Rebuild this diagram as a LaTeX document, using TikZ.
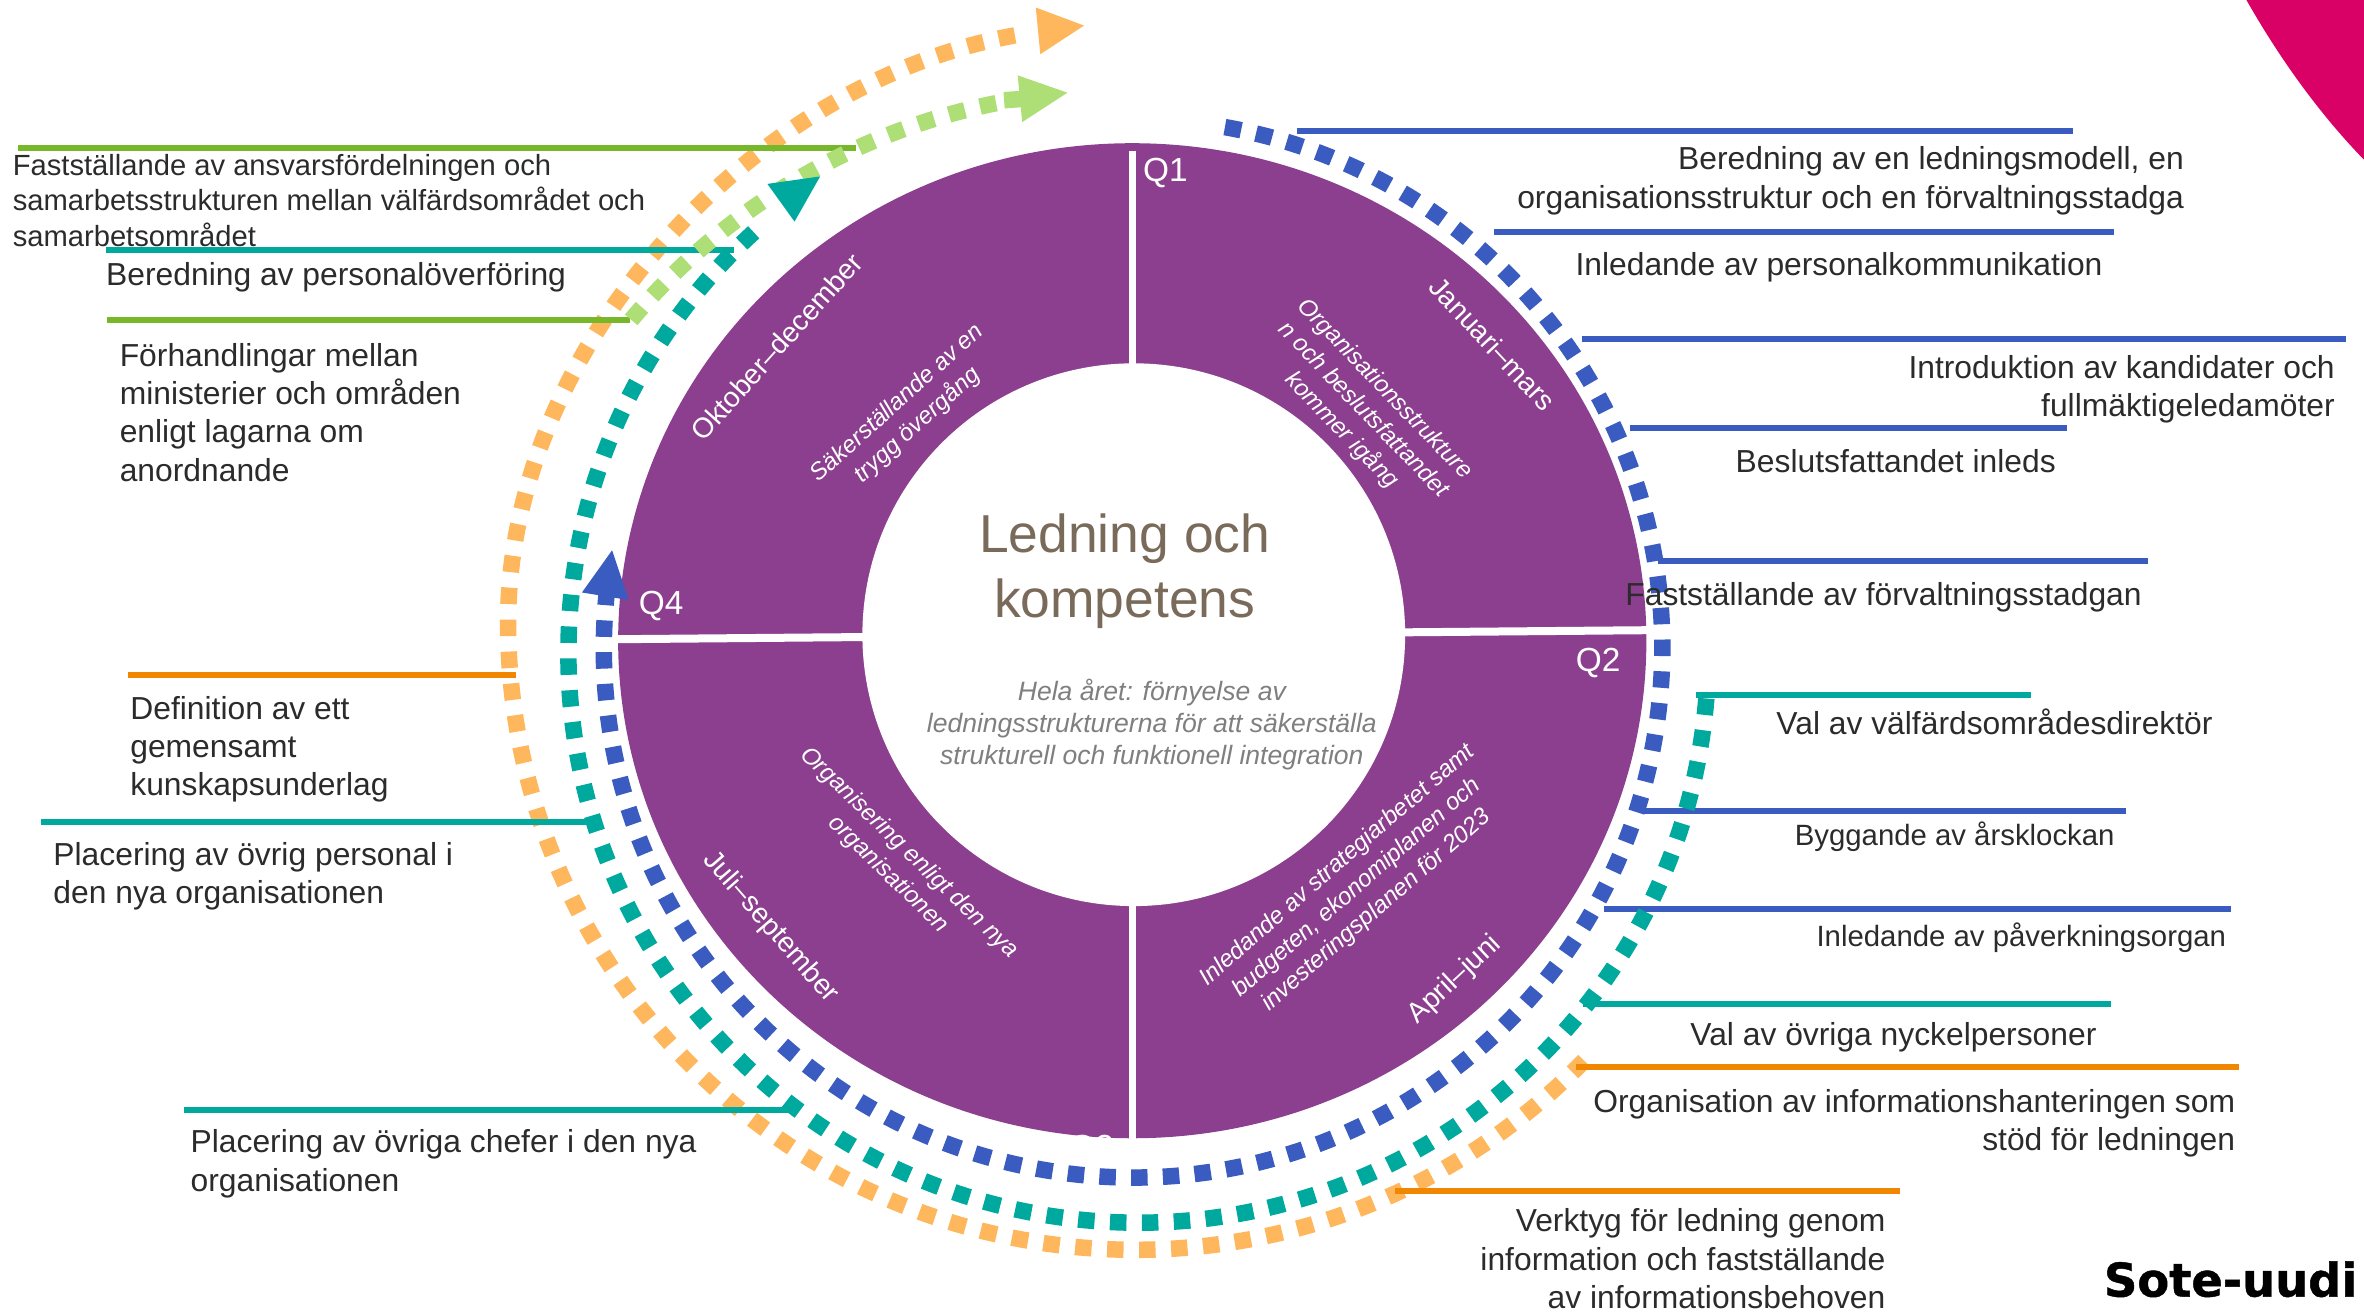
\documentclass[tikz,border=0pt]{standalone}
\usepackage{fontspec}
\setmainfont{Liberation Sans}
\newfontfamily\logofont[FakeBold=1]{DejaVu Sans Bold}
\definecolor{Purple}{HTML}{8C3F8F}
\definecolor{Ink}{HTML}{2B2B2B}
\definecolor{Heading}{HTML}{7A6A5A}
\definecolor{Note}{HTML}{7F7F7F}
\definecolor{RingOrange}{HTML}{FFB75E}
\definecolor{RingTeal}{HTML}{00A99D}
\definecolor{RingBlue}{HTML}{3A5BBF}
\definecolor{RingGreen}{HTML}{AEDF76}
\definecolor{LineGreen}{HTML}{76B82A}
\definecolor{LineOrange}{HTML}{F18700}
\definecolor{Pink}{HTML}{D90166}

\begin{document}
\begin{tikzpicture}[x=0.0150765cm, y=0.01508cm]
		\tikzstyle{Ring}	= [line width=0.165cm, dash pattern=on 0.165cm off 0.155cm]
		\tikzstyle{Lead}	= [line width=0.06cm]
		\tikzstyle{Label}	= [inner sep=0pt, text=Ink, font=\fontsize{9.05}{10.9}\selectfont]
		\tikzstyle{Right}	= [Label, anchor=east, align=right]
		\tikzstyle{Left}	= [Label, anchor=west, align=left]
		\tikzstyle{Small}	= [font=\fontsize{8.35}{10}\selectfont]
		\tikzstyle{Month}	= [inner sep=0pt, text=white, font=\fontsize{8}{10}\selectfont]
		\tikzstyle{Quarter}	= [inner sep=0pt, text=white, font=\fontsize{9.5}{11}\selectfont]
		\tikzstyle{Goal}	= [inner sep=0pt, text=white, align=center, font=\fontsize{6.8}{8.5}\itshape\selectfont]

		\useasboundingbox (0,0) rectangle (1568,870);

		\fill[Pink] (1490,870) .. controls (1511,833) and (1537,796) .. (1568,764) -- (1568,870) -- cycle;

		\fill[Purple] (751,445) ellipse [x radius=341, y radius=330];
		\fill[white] (752,449) circle [radius=180];
		\node (q3) at (724,107) [Quarter] {Q3};
		\draw[white, line width=0.07cm] (751,770) -- (751,110);
		\draw[white, line width=0.08cm] (408,446) -- (1094,452);

		\node (q1) at (773,755) [Quarter] {Q1};
		\node (q2) at (1060,430) [Quarter] {Q2};
		\node (q4) at (438.5,468) [Quarter] {Q4};

		\node (m1) at (990,642) [Month, rotate=-47] {Januari–mars};
		\node (m2) at (965,220) [Month, rotate=43] {April–juni};
		\node (m3) at (511,255) [Month, rotate=-49] {Juli–september};
		\node (m4) at (515,640) [Month, rotate=48] {Oktober–december};

		\node (g1) at (904,598) [Goal, rotate=-46] {Organisationsstrukture\\n och beslutsfattandet\\kommer igång};
		\node (g2) at (900,281) [Goal, rotate=41] {Inledande av strategiarbetet samt\\budgeten, ekonomiplanen och\\investeringsplanen för 2023};
		\node (g3) at (596,297) [Goal, rotate=-44] {Organisering enligt den nya\\organisationen};
		\node (g4) at (602,595) [Goal, rotate=42] {Säkerställande av en\\trygg övergång};

		\node (head) at (746,491) [inner sep=0pt, text=Heading, align=center, font=\fontsize{15.2}{18.4}\selectfont] {Ledning och\\kompetens};
		\node (note) at (764,389.5) [inner sep=0pt, text=Note, align=center, font=\fontsize{7.55}{9.2}\itshape\selectfont] {Hela året: förnyelse av\\ledningsstrukturerna för att säkerställa\\strukturell och funktionell integration};

		\draw [Ring, RingOrange] (753,457) ++(-44.3:416) arc [start angle=-44.3, end angle=-180, radius=416] .. controls (337,640) and (500,820) .. (682,848);

		\coordinate (b1) at (860,783);	\coordinate (b1e) at (1375,783);
		\coordinate (b2) at (991,716);	\coordinate (b2e) at (1402,716);
		\coordinate (b3) at (1049,645);	\coordinate (b3e) at (1556,645);
		\coordinate (b4) at (1081,586);	\coordinate (b4e) at (1371,586);
		\coordinate (b5) at (1100,498);	\coordinate (b5e) at (1425,498);
		\coordinate (b6) at (1089,332);	\coordinate (b6e) at (1410,332);
		\coordinate (b7) at (1064,267);	\coordinate (b7e) at (1480,267);
		\coordinate (t1) at (1125,409);	\coordinate (t1e) at (1347,409);
		\coordinate (t2) at (1050,204);	\coordinate (t2e) at (1400,204);
		\coordinate (t3) at (487,704);	\coordinate (t3e) at (70,704);
		\coordinate (t4) at (392,325);	\coordinate (t4e) at (27,325);
		\coordinate (t5) at (528,134);	\coordinate (t5e) at (122,134);
		\coordinate (o1) at (1045,162);	\coordinate (o1e) at (1485,162);
		\coordinate (o2) at (925,80);	\coordinate (o2e) at (1260,80);
		\coordinate (o3) at (342,422);	\coordinate (o3e) at (85,422);
		\coordinate (l1) at (568,772);	\coordinate (l1e) at (12,772);
		\coordinate (l2) at (418,658);	\coordinate (l2e) at (71,658);

		\draw [Lead, RingBlue] (b1) -- (b1e);
		\draw [Lead, RingBlue] (b2) -- (b2e);
		\draw [Lead, RingBlue] (b3) -- (b3e);
		\draw [Lead, RingBlue] (b4) -- (b4e);
		\draw [Lead, RingBlue] (b5) -- (b5e);
		\draw [Lead, RingBlue] (b6) -- (b6e);
		\draw [Lead, RingBlue] (b7) -- (b7e);
		\draw [Lead, RingTeal] (t1) -- (t1e);
		\draw [Lead, RingTeal] (t2) -- (t2e);
		\draw [Lead, RingTeal] (t3) -- (t3e);
		\draw [Lead, RingTeal] (t4) -- (t4e);
		\draw [Lead, RingTeal] (t5) -- (t5e);
		\draw [Lead, LineOrange] (o1) -- (o1e);
		\draw [Lead, LineOrange] (o2) -- (o2e);
		\draw [Lead, LineOrange] (o3) -- (o3e);
		\draw [Lead, LineGreen] (l1) -- (l1e);
		\draw [Lead, LineGreen] (l2) -- (l2e);

		\draw [Ring, RingBlue, dash pattern=on 0.165cm off 0.1525cm] (751.5,440) ++(80:351) arc [start angle=80, end angle=-186.5, radius=351];
		\draw [Ring, RingTeal, dash pattern=on 0.165cm off 0.154cm] (755,437) ++(-4.6:378) arc [start angle=-4.6, end angle=-228.6, radius=378];
		\draw [Ring, RingGreen] (745,384) ++(140:426) arc [start angle=140, end angle=100.5, radius=426];
		\draw [Ring, RingGreen, dash pattern=on 1cm] (666,803.5) -- (680,804.5);

		\fill[RingOrange] (687,865) -- (719,853) -- (690,834) -- cycle;
		\fill[RingGreen] (675,820) -- (708,808.5) -- (678,789) -- cycle;
		\fill[RingTeal] (509,748) -- (544,753) -- (527,723) -- cycle;
		\fill[RingBlue] (386,477) -- (406,505) -- (417,472) -- cycle;

		\node (a1) at (8,737) [Left, font=\fontsize{8.3}{10}\selectfont] {Fastställande av ansvarsfördelningen och\\samarbetsstrukturen mellan välfärdsområdet och\\samarbetsområdet};
		\node (a2) at (70,686) [Left] {Beredning av personalöverföring};
		\node (a3) at (79,596.5) [Left] {Förhandlingar mellan\\ministerier och områden\\enligt lagarna om\\anordnande};
		\node (a4) at (86,373) [Left] {Definition av ett\\gemensamt\\kunskapsunderlag};
		\node (a5) at (35,289) [Left] {Placering av övrig personal i\\den nya organisationen};
		\node (a6) at (126,98) [Left] {Placering av övriga chefer i den nya\\organisationen};

		\node (c1) at (1449,750) [Right] {Beredning av en ledningsmodell, en\\organisationsstruktur och en förvaltningsstadga};
		\node (c2) at (1395,693) [Right] {Inledande av personalkommunikation};
		\node (c3) at (1549,612) [Right] {Introduktion av kandidater och\\fullmäktigeledamöter};
		\node (c4) at (1364,564) [Right] {Beslutsfattandet inleds};
		\node (c5) at (1421,474) [Right] {Fastställande av förvaltningsstadgan};
		\node (c6) at (1468,391) [Right] {Val av välfärdsområdesdirektör};
		\node (c7) at (1403,315) [Right, Small] {Byggande av årsklockan};
		\node (c8) at (1477,248) [Right, Small] {Inledande av påverkningsorgan};
		\node (c9) at (1391,182) [Right] {Val av övriga nyckelpersoner};
		\node (c10) at (1483,125) [Right] {Organisation av informationshanteringen som\\stöd för ledningen};
		\node (c11) at (1251,35) [Right] {Verktyg för ledning genom\\information och fastställande\\av informationsbehoven};

		\node (logo) at (1564,10) [inner sep=0pt, anchor=base east, text=black, font=\fontsize{13.2}{15}\logofont] {Sote-uudi};
	\end{tikzpicture}
\end{document}
